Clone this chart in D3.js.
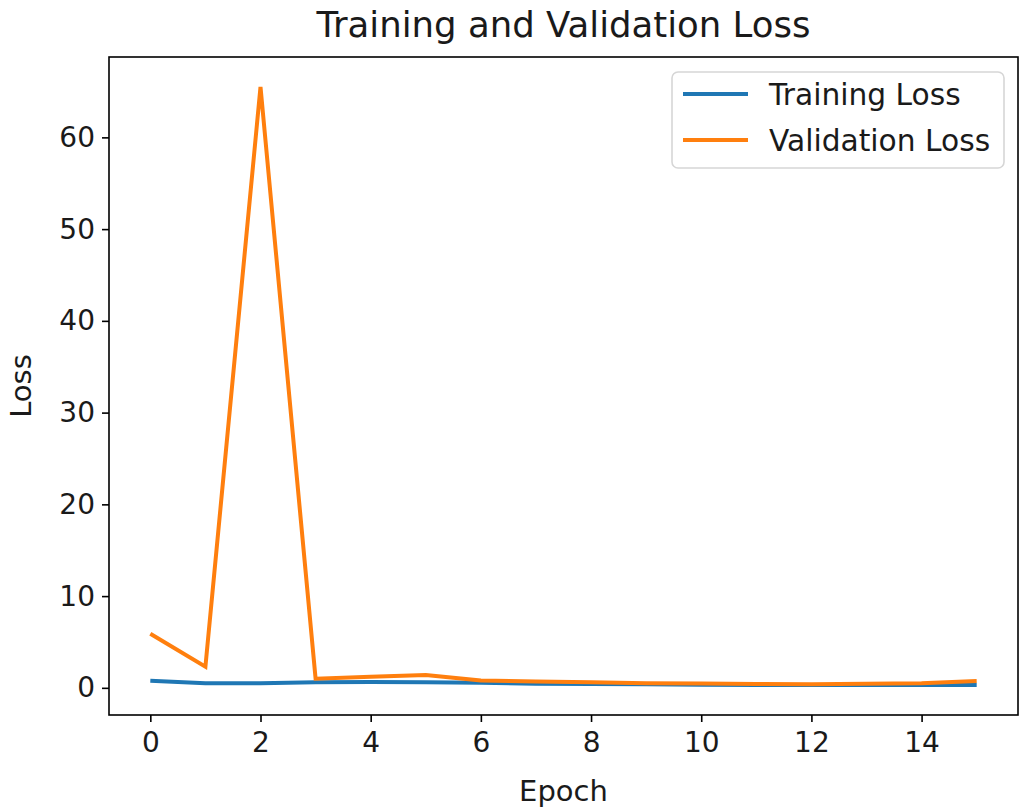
<!DOCTYPE html>
<html>
<head>
<meta charset="utf-8">
<script src="https://cdn.jsdelivr.net/npm/d3@7"></script>
<style>
  body { margin: 0; background: #fff; }
  text { font-family: "DejaVu Sans", sans-serif; fill: #1a1a1a; }
</style>
</head>
<body>
<script>
// values
var epochs = [0, 1, 2, 3, 4, 5, 6, 7, 8, 9, 10, 11, 12, 13, 14, 15];
var trainLoss = [0.77, 0.5, 0.5, 0.6, 0.65, 0.6, 0.55, 0.45, 0.42, 0.38, 0.35, 0.3, 0.3, 0.3, 0.3, 0.3];
var valLoss = [5.9, 2.3, 65.5, 1.0, 1.2, 1.4, 0.8, 0.7, 0.62, 0.5, 0.48, 0.42, 0.4, 0.45, 0.5, 0.75];
var xTicks = [0, 2, 4, 6, 8, 10, 12, 14];
var yTicks = [0, 10, 20, 30, 40, 50, 60];
var seriesNames = ["Training Loss", "Validation Loss"];
var seriesColors = ["#1f77b4", "#ff7f0e"];

var W = 1027, H = 812;
var plotLeft = 109, plotRight = 1018, plotTop = 57, plotBottom = 715;

var svg = d3.select("body").append("svg")
  .attr("width", W)
  .attr("height", H);

// matplotlib style 5% margins
var xMin = d3.min(epochs), xMax = d3.max(epochs);
var xPad = (xMax - xMin) * 0.05;
var all = trainLoss.concat(valLoss);
var yMin = d3.min(all), yMax = d3.max(all);
var yPad = (yMax - yMin) * 0.05;

var x = d3.scaleLinear().domain([xMin - xPad, xMax + xPad]).range([plotLeft, plotRight]);
var y = d3.scaleLinear().domain([yMin - yPad, yMax + yPad]).range([plotBottom, plotTop]);

var line = d3.line()
  .x(function (d) { return x(d[0]); })
  .y(function (d) { return y(d[1]); });

[trainLoss, valLoss].forEach(function (vals, i) {
  svg.append("path")
    .datum(epochs.map(function (e, j) { return [e, vals[j]]; }))
    .attr("d", line)
    .attr("fill", "none")
    .attr("stroke", seriesColors[i])
    .attr("stroke-width", 4)
    .attr("stroke-linejoin", "miter");
});

// axes
var xAxis = svg.append("g")
  .attr("transform", "translate(0," + plotBottom + ")")
  .call(d3.axisBottom(x).tickValues(xTicks).tickSize(7).tickPadding(9).tickFormat(d3.format("d")));
var yAxis = svg.append("g")
  .attr("transform", "translate(" + plotLeft + ",0)")
  .call(d3.axisLeft(y).tickValues(yTicks).tickSize(7).tickPadding(7).tickFormat(d3.format("d")));

[xAxis, yAxis].forEach(function (g) {
  g.select(".domain").remove();
  g.selectAll(".tick line").attr("stroke", "#000").attr("stroke-width", 1.6);
  g.selectAll(".tick text")
    .attr("font-size", 28)
    .attr("font-family", "DejaVu Sans")
    .attr("fill", "#1a1a1a");
});
xAxis.selectAll(".tick text").attr("dy", "0.75em");

// frame
svg.append("rect")
  .attr("x", plotLeft).attr("y", plotTop)
  .attr("width", plotRight - plotLeft).attr("height", plotBottom - plotTop)
  .attr("fill", "none")
  .attr("stroke", "#000")
  .attr("stroke-width", 1.6);

// title and labels
svg.append("text")
  .attr("x", (plotLeft + plotRight) / 2).attr("y", 37)
  .attr("text-anchor", "middle")
  .attr("font-size", 35.5)
  .text("Training and Validation Loss");

svg.append("text")
  .attr("x", (plotLeft + plotRight) / 2).attr("y", 801)
  .attr("text-anchor", "middle")
  .attr("font-size", 29)
  .text("Epoch");

svg.append("text")
  .attr("transform", "translate(31," + ((plotTop + plotBottom) / 2) + ") rotate(-90)")
  .attr("text-anchor", "middle")
  .attr("font-size", 29)
  .text("Loss");

// legend
var lg = svg.append("g");
lg.append("rect")
  .attr("x", 672).attr("y", 72)
  .attr("width", 332).attr("height", 96)
  .attr("rx", 6)
  .attr("fill", "#fff").attr("fill-opacity", 0.8)
  .attr("stroke", "#d6d6d6").attr("stroke-width", 1.6);

seriesNames.forEach(function (name, i) {
  var cy = 94 + i * 46;
  lg.append("line")
    .attr("x1", 683).attr("x2", 748)
    .attr("y1", cy).attr("y2", cy)
    .attr("stroke", seriesColors[i])
    .attr("stroke-width", 4);
  lg.append("text")
    .attr("x", 769).attr("y", cy)
    .attr("dy", "0.36em")
    .attr("font-size", 29.7)
    .text(name);
});
</script>
</body>
</html>
